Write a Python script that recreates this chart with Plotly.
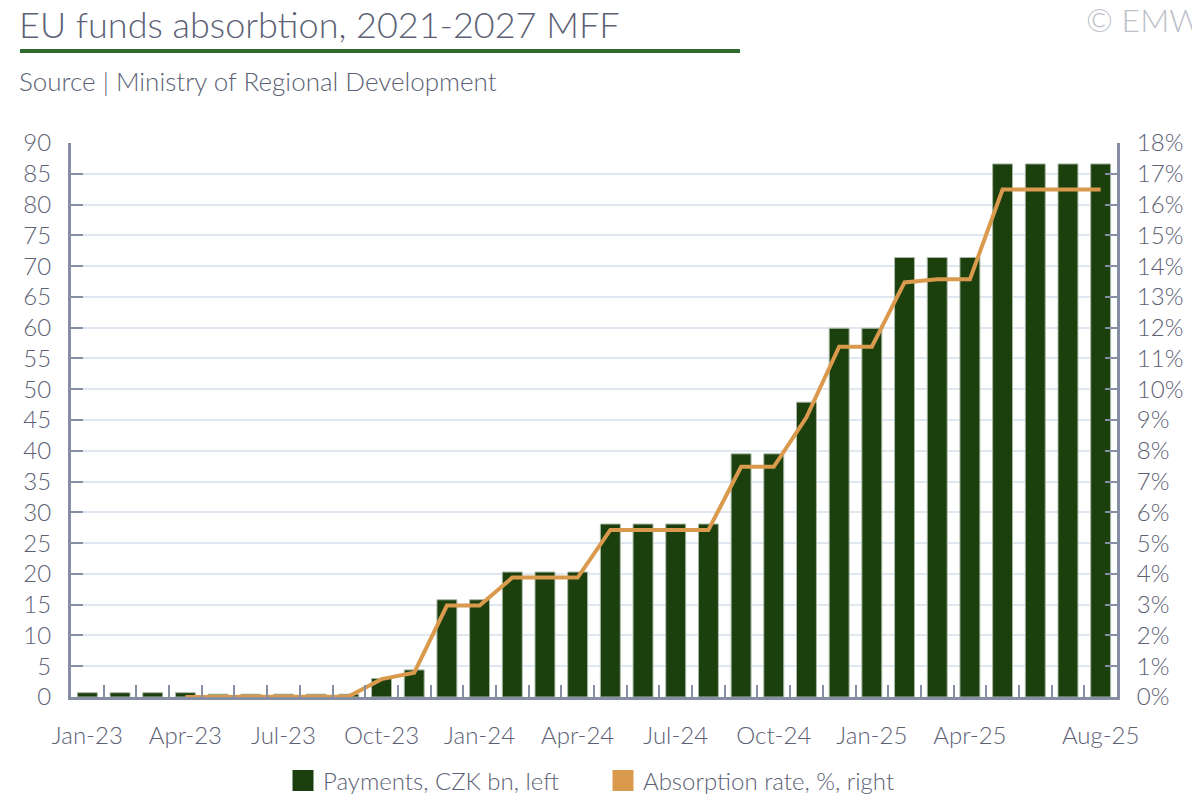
import plotly.graph_objects as go

months = ["Jan-23", "Feb-23", "Mar-23", "Apr-23", "May-23", "Jun-23", "Jul-23", "Aug-23",
          "Sep-23", "Oct-23", "Nov-23", "Dec-23", "Jan-24", "Feb-24", "Mar-24", "Apr-24",
          "May-24", "Jun-24", "Jul-24", "Aug-24", "Sep-24", "Oct-24", "Nov-24", "Dec-24",
          "Jan-25", "Feb-25", "Mar-25", "Apr-25", "May-25", "Jun-25", "Jul-25", "Aug-25"]

payments = [0.7, 0.7, 0.7, 0.7, 0.45, 0.45, 0.45, 0.45,
            0.45, 3.0, 4.4, 15.8, 15.8, 20.3, 20.3, 20.3,
            28.1, 28.1, 28.1, 28.1, 39.5, 39.5, 47.9, 59.9,
            59.9, 71.4, 71.4, 71.4, 86.6, 86.6, 86.6, 86.6]

absorption = [None, None, None, 0.0, 0.0, 0.0, 0.0, 0.0,
              0.02, 0.58, 0.79, 2.97, 2.97, 3.88, 3.88, 3.88,
              5.43, 5.43, 5.43, 5.43, 7.48, 7.48, 9.09, 11.38,
              11.38, 13.47, 13.57, 13.57, 16.49, 16.49, 16.49, 16.49]

label_months = ["Jan-23", "Apr-23", "Jul-23", "Oct-23", "Jan-24", "Apr-24",
                "Jul-24", "Oct-24", "Jan-25", "Apr-25", "Aug-25"]

title = "EU funds absorbtion, 2021-2027 MFF"
source = "Source | Ministry of Regional Development"

BAR = "#1c3f0e"
LINE = "#d99a4e"
TXT = "#5c6175"
AX = "#858ea3"
GRID = "#dfe7f1"
FONT = "Lato"
WT = 300

x = list(range(len(months)))
tickvals = [months.index(m) for m in label_months]

fig = go.Figure()
fig.add_trace(go.Bar(x=x, y=payments, marker=dict(color=BAR, line=dict(color="#a9b9a6", width=1)),
                     showlegend=False, yaxis="y"))
fig.add_trace(go.Scatter(x=x, y=absorption, mode="lines", line=dict(color=LINE, width=4),
                         showlegend=False, yaxis="y2"))
fig.add_trace(go.Scatter(x=[None], y=[None], mode="markers", name="Payments, CZK bn, left",
                         marker=dict(symbol="square", size=16, color=BAR, line=dict(color=BAR, width=12))))
fig.add_trace(go.Scatter(x=[None], y=[None], mode="markers", name="Absorption rate, %, right",
                         marker=dict(symbol="square", size=16, color=LINE, line=dict(color=LINE, width=12)),
                         yaxis="y2"))

OFF = 8  # page body margin offset
L, R, T, B = 71 - OFF, 1117 - OFF, 143 - OFF, 697 - OFF
W = R - L
H = B - T

def px(xp):
    return (xp - OFF - L) / W

def py(yp):
    return (B - (yp - OFF)) / H

tf = dict(size=24, color=TXT, family=FONT, weight=WT)

fig.update_layout(
    width=1200, height=800,
    margin=dict(l=L, r=1200 - R, t=T, b=800 - B, autoexpand=False),
    paper_bgcolor="white", plot_bgcolor="white",
    font=dict(family=FONT, color=TXT, size=20, weight=WT),
    bargap=0.39,
    xaxis=dict(range=[-0.5, len(months) - 0.5], tickmode="array", tickvals=tickvals,
               ticktext=label_months, ticks="", showgrid=False, showline=True,
               linecolor=AX, linewidth=3, zeroline=False, ticklabelstandoff=15,
               tickfont=tf, automargin=False,
               minor=dict(tickmode="array", tickvals=[i + 0.5 for i in range(len(months) - 1)],
                          ticks="inside", ticklen=12, tickwidth=2, tickcolor=AX, showgrid=False)),
    yaxis=dict(range=[0, 90], dtick=5, ticks="inside", ticklen=12, tickwidth=2, tickcolor=AX,
               showline=True, linecolor=AX, linewidth=3, showgrid=True, gridcolor=GRID,
               gridwidth=2, zeroline=False, tickfont=tf, automargin=False,
               ticklabelstandoff=12),
    yaxis2=dict(range=[0, 18], dtick=1, ticksuffix="%", overlaying="y", side="right",
                ticks="inside", ticklen=12, tickwidth=2, tickcolor=AX, showline=True,
                linecolor=AX, linewidth=3, showgrid=False, zeroline=False,
                tickfont=tf, ticklabelstandoff=12, automargin=False),
    legend=dict(orientation="h", x=px(603), xanchor="center", y=py(781), yanchor="middle",
                font=dict(size=24, color=TXT, family=FONT, weight=WT), itemwidth=30,
                entrywidth=275, entrywidthmode="pixels",
                bgcolor="rgba(0,0,0,0)"),
)

fig.add_annotation(text=title, xref="paper", yref="paper", x=px(17), y=py(24),
                   xanchor="left", yanchor="middle", showarrow=False,
                   font=dict(size=36, color=TXT, family=FONT, weight=WT))
fig.add_annotation(text=source, xref="paper", yref="paper", x=px(17), y=py(81),
                   xanchor="left", yanchor="middle", showarrow=False,
                   font=dict(size=26, color=TXT, family=FONT, weight=WT))
fig.add_annotation(text="© EMW", xref="paper", yref="paper", x=px(1204), y=py(20),
                   xanchor="right", yanchor="middle", showarrow=False,
                   font=dict(size=32, color="#bcc0c8", family=FONT, weight=WT))
fig.add_shape(type="line", xref="paper", yref="paper", x0=px(20), x1=px(740), y0=py(51), y1=py(51),
              line=dict(color="#2e6b2e", width=4))

fig.write_html("out.html")
